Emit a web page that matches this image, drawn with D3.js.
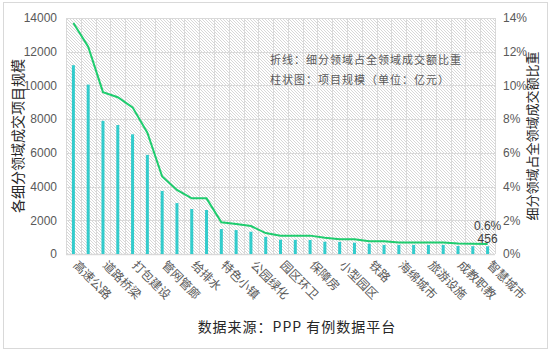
<!DOCTYPE html>
<html>
<head>
<meta charset="utf-8">
<script src="https://cdn.jsdelivr.net/npm/d3@7"></script>
<style>
  body { margin: 0; background: #fff; }
  svg text { font-family: "Noto Sans CJK SC", "Noto Sans", sans-serif; }
</style>
</head>
<body>
<svg id="chart-svg" width="556" height="354"></svg>
<script>
// categories (only every other label is printed on the axis)
const categories = ['高速公路', '', '道路桥梁', '', '打包建设', '', '管网管廊', '', '给排水', '',
    '特色小镇', '', '公园绿化', '', '园区环卫', '', '保障房', '', '小型园区', '',
    '铁路', '', '海绵城市', '', '旅游设施', '', '成教职教', '', '智慧城市'];

// project scale, 亿元
const scaleValues = [11200, 10050, 7900, 7650, 7100, 5880, 3740, 3020, 2670, 2610,
    1480, 1420, 1320, 1020, 850, 840, 830, 730, 720, 670,
    610, 540, 540, 540, 540, 540, 470, 460, 456];

// share of total, %
const shareValues = [13.7, 12.3, 9.6, 9.3, 8.7, 7.2, 4.6, 3.8, 3.3, 3.3,
    1.88, 1.78, 1.66, 1.24, 1.09, 1.09, 1.09, 0.97, 0.87, 0.87,
    0.76, 0.76, 0.68, 0.68, 0.68, 0.68, 0.63, 0.61, 0.6];

const leftTicks = [0, 2000, 4000, 6000, 8000, 10000, 12000, 14000];
const rightTicks = [0, 2, 4, 6, 8, 10, 12, 14];

const svg = d3.select('#chart-svg');
const plotL = 66, plotR = 495, plotT = 18, plotB = 254;

// outer frame
svg.append('rect')
    .attr('x', 3.5).attr('y', 2.5).attr('width', 544).attr('height', 346)
    .attr('fill', '#fff').attr('stroke', '#d9d9d9');

// hatch pattern for the plot area
const defs = svg.append('defs');
const pat = defs.append('pattern')
    .attr('id', 'hatch')
    .attr('patternUnits', 'userSpaceOnUse')
    .attr('width', 3).attr('height', 3);
pat.append('path')
    .attr('d', 'M-1,-1L4,4M-1,2L1,4M2,-1L4,1')
    .attr('stroke', '#cdcdcd')
    .attr('stroke-width', 0.8);

let x = d3.scaleBand().domain(d3.range(categories.length)).range([plotL, plotR]).padding(0);
let y = d3.scaleLinear().domain([0, 14000]).range([plotB, plotT]);
let y2 = d3.scaleLinear().domain([0, 14]).range([plotB, plotT]);

svg.append('rect')
    .attr('x', plotL).attr('y', plotT)
    .attr('width', plotR - plotL).attr('height', plotB - plotT)
    .attr('fill', 'url(#hatch)');

// grid lines
const grid = svg.append('g');
grid.selectAll('.hg').data(leftTicks)
    .enter().append('line')
    .attr('x1', plotL).attr('x2', plotR)
    .attr('y1', d => Math.round(y(d)) + 0.5).attr('y2', d => Math.round(y(d)) + 0.5)
    .attr('stroke', '#d9d9d9');
grid.selectAll('.vg').data(d3.range(categories.length + 1))
    .enter().append('line')
    .attr('x1', d => Math.round(plotL + d * x.step()) + 0.5)
    .attr('x2', d => Math.round(plotL + d * x.step()) + 0.5)
    .attr('y1', plotT).attr('y2', plotB)
    .attr('stroke', '#d9d9d9');

// left axis
const yAxisGroup = svg.append('g').attr('transform', `translate(${plotL},0)`);
yAxisGroup.call(d3.axisLeft(y).tickValues(leftTicks).tickFormat(d3.format('d')).tickSize(0).tickPadding(9));
yAxisGroup.select('.domain').remove();
yAxisGroup.selectAll('text').attr('fill', '#595959').style('font-size', '12px')
    .style('font-family', 'Liberation Sans, Arial, sans-serif');

// right axis
const y2AxisGroup = svg.append('g').attr('transform', `translate(${plotR},0)`);
y2AxisGroup.call(d3.axisRight(y2).tickValues(rightTicks).tickFormat(d => d + '%').tickSize(0).tickPadding(8));
y2AxisGroup.select('.domain').remove();
y2AxisGroup.selectAll('text').attr('fill', '#595959').style('font-size', '12px')
    .style('font-family', 'Liberation Sans, Arial, sans-serif');

// bottom axis line
svg.append('line')
    .attr('x1', plotL).attr('x2', plotR)
    .attr('y1', plotB + 0.5).attr('y2', plotB + 0.5)
    .attr('stroke', '#d9d9d9').attr('stroke-width', 1.5);

// bars
svg.append('g').selectAll('rect').data(scaleValues)
    .enter().append('rect')
    .attr('x', (d, i) => x(i) + x.bandwidth() / 2 - 1.5)
    .attr('y', d => y(d))
    .attr('width', 3)
    .attr('height', d => plotB - y(d))
    .attr('fill', '#33cccc');

// share line
let lineGenerator = d3.line()
    .x((d, i) => x(i) + x.bandwidth() / 2)
    .y(d => y2(d));
svg.append('path')
    .attr('d', lineGenerator(shareValues))
    .attr('fill', 'none')
    .attr('stroke', '#1fcc6e')
    .attr('stroke-width', 2);

// x labels, rotated
const last = categories.length - 1;
svg.append('g').selectAll('text')
    .data(categories.map((c, i) => ({c, i})).filter(d => d.c !== ''))
    .enter().append('text')
    .attr('transform', d => `translate(${x(d.i) + x.bandwidth() / 2 - 1},${plotB + 12}) rotate(45)`)
    .attr('fill', '#595959')
    .style('font-size', '12px')
    .text(d => d.c);

// end labels
const lx = x(last) + x.bandwidth() / 2;
svg.append('text')
    .attr('x', lx).attr('y', y2(shareValues[last]) - 14)
    .attr('text-anchor', 'middle').attr('fill', '#404040')
    .style('font-size', '12px').style('font-family', 'Liberation Sans, Arial, sans-serif')
    .text(shareValues[last].toFixed(1) + '%');
svg.append('text')
    .attr('x', lx).attr('y', y(scaleValues[last]) - 3)
    .attr('text-anchor', 'middle').attr('fill', '#404040')
    .style('font-size', '12px').style('font-family', 'Liberation Sans, Arial, sans-serif')
    .text(scaleValues[last]);

// axis titles
svg.append('text')
    .attr('transform', `translate(18,${(plotT + plotB) / 2}) rotate(-90)`)
    .attr('text-anchor', 'middle').attr('dy', '0.35em').attr('fill', '#262626')
    .style('font-size', '14px')
    .text('各细分领域成交项目规模');
svg.append('text')
    .attr('transform', `translate(532,${(plotT + plotB) / 2}) rotate(-90)`)
    .attr('text-anchor', 'middle').attr('dy', '0.35em').attr('fill', '#262626')
    .style('font-size', '13px')
    .text('细分领域占全领域成交额比重');

// note
svg.append('text')
    .attr('x', 270).attr('y', 64)
    .attr('fill', '#595959').style('font-size', '11px').style('letter-spacing', '1px')
    .text('折线：细分领域占全领域成交额比重');
svg.append('text')
    .attr('x', 270).attr('y', 84)
    .attr('fill', '#595959').style('font-size', '11px').style('letter-spacing', '1px')
    .text('柱状图：项目规模（单位：亿元）');

// source
svg.append('text')
    .attr('x', 297).attr('y', 332)
    .attr('text-anchor', 'middle').attr('fill', '#262626')
    .style('font-size', '14px').style('letter-spacing', '1px')
    .text('数据来源：PPP 有例数据平台');
</script>
</body>
</html>
